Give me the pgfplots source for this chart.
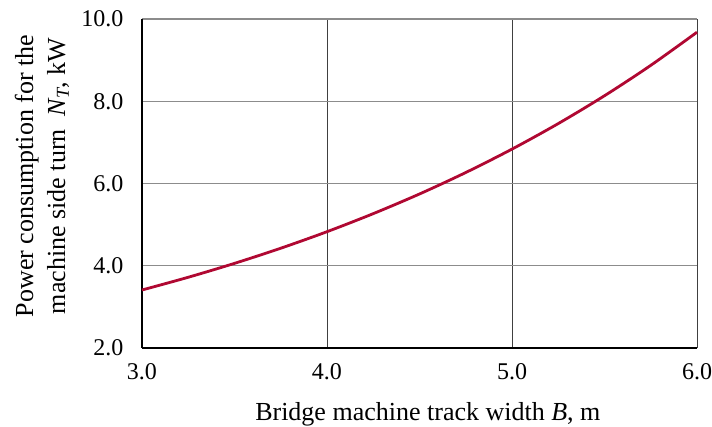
\documentclass[border=0pt]{standalone}
\usepackage{pgfplots}
\pgfplotsset{compat=1.18}
\usepackage{fontspec}
\setmainfont{Liberation Serif}
\definecolor{curve}{RGB}{176,8,50}
\begin{document}
\begin{tikzpicture}
\path[use as bounding box] (-142pt,-79pt) rectangle (570pt,348pt);
\begin{axis}[
  at={(0,0)}, anchor=south west,
  width=555pt, height=329pt, scale only axis,
  xmin=3, xmax=6, ymin=2, ymax=10,
  xtick={3,4,5,6}, ytick={2,4,6,8,10},
  xticklabels={3.0,4.0,5.0,6.0},
  yticklabels={2.0,4.0,6.0,8.0,10.0},
  axis lines=left,
  axis line style={-, line width=2.2pt, black},
  major tick length=0pt,
  grid=major,
  x grid style={line width=0.9pt, black!75},
  y grid style={line width=1.1pt, black!45},
  ticklabel style={font=\rmfamily\fontsize{24}{28}\selectfont},
  yticklabel style={xshift=-15pt},
  xticklabel style={yshift=-12pt},
  xlabel={Bridge machine track width \textit{B}, m},
  ylabel={Power consumption for the\\machine side turn\ \ \textit{N\textsubscript{T}}, kW},
  xlabel style={font=\rmfamily\fontsize{26}{32}\selectfont, at={(axis description cs:0.515,-0.219)}, anchor=base},
  ylabel style={font=\rmfamily\fontsize{26}{32}\selectfont, align=center, at={(axis description cs:-0.125,0.523)}, anchor=south},
  clip=false,
]
\addplot[curve, line width=2.8pt, smooth] coordinates {
  (3.00,3.410) (3.25,3.720) (3.50,4.058) (3.75,4.426) (4.00,4.828)
  (4.25,5.267) (4.50,5.745) (4.75,6.267) (5.00,6.836) (5.25,7.457)
  (5.50,8.134) (5.75,8.873) (6.00,9.679)
};
\end{axis}
\end{tikzpicture}
\end{document}
